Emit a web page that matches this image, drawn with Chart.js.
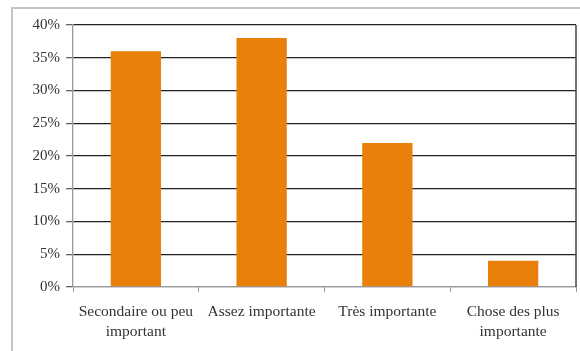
<!DOCTYPE html>
<html>
<head>
<meta charset="utf-8">
<script src="https://cdn.jsdelivr.net/npm/chart.js@4"></script>
<style>
    html, body { margin: 0; padding: 0; background: #fff; }
    #wrap { width: 580px; height: 351px; position: relative; }
</style>
</head>
<body>
<div id="wrap"><canvas id="importanceChart" width="580" height="351"></canvas></div>
<script>
// Categories and values (percent of answers)
const categories = [
    ['Secondaire ou peu', 'important'],
    'Assez importante',
    'Très importante',
    ['Chose des plus', 'importante']
];
const percentages = [36, 38, 22, 4];
const yTicks = [0, 5, 10, 15, 20, 25, 30, 35, 40];

const barColor = '#E8800A';
const serif = "'Liberation Serif', 'DejaVu Serif', serif";

// Outer frame (left + top) and right edge of the plot area
const framePlugin = {
    id: 'frame',
    beforeDraw(chart) {
        const ctx = chart.ctx;
        ctx.save();
        ctx.strokeStyle = '#c4c4c4';
        ctx.lineWidth = 2;
        ctx.beginPath();
        ctx.moveTo(12, 351);
        ctx.lineTo(12, 8);
        ctx.lineTo(580, 8);
        ctx.stroke();
        ctx.restore();
    },
    afterDraw(chart) {
        const a = chart.chartArea;
        const ctx = chart.ctx;
        ctx.save();
        ctx.strokeStyle = '#444';
        ctx.lineWidth = 1.5;
        ctx.beginPath();
        ctx.moveTo(a.right, a.top);
        ctx.lineTo(a.right, a.bottom);
        ctx.stroke();
        ctx.restore();
    }
};

new Chart(document.getElementById('importanceChart'), {
    type: 'bar',
    data: {
        labels: categories,
        datasets: [{
            data: percentages,
            backgroundColor: barColor,
            borderWidth: 0,
            categoryPercentage: 1,
            barPercentage: 0.4
        }]
    },
    options: {
        responsive: false,
        animation: false,
        layout: { padding: { top: 25, right: 4, left: 0, bottom: 0 } },
        plugins: {
            legend: { display: false },
            tooltip: { enabled: false }
        },
        scales: {
            y: {
                min: 0,
                max: 40,
                afterFit: (scale) => { scale.width = 73; },
                afterBuildTicks: (scale) => { scale.ticks = yTicks.map(v => ({ value: v })); },
                ticks: {
                    callback: (v) => v + '%',
                    color: '#333',
                    padding: 6,
                    font: { family: serif, size: 15 }
                },
                grid: {
                    color: (c) => c.tick && c.tick.value === 0 ? '#999' : '#222',
                    lineWidth: 1.3,
                    tickLength: 7,
                    tickColor: '#666'
                },
                border: { color: '#999', width: 1.3 }
            },
            x: {
                afterFit: (scale) => { scale.height = 64; },
                ticks: {
                    color: '#333',
                    padding: 10,
                    maxRotation: 0,
                    font: { family: serif, size: 15.5, lineHeight: 1.3 }
                },
                grid: {
                    drawOnChartArea: false,
                    offset: true,
                    tickLength: 5,
                    color: '#999'
                },
                border: { color: '#999', width: 1.3 }
            }
        }
    },
    plugins: [framePlugin]
});
</script>
</body>
</html>
